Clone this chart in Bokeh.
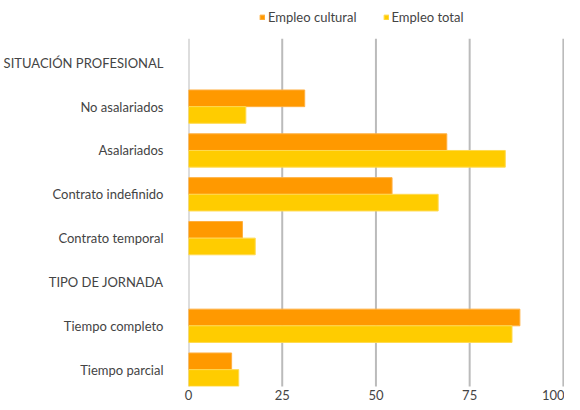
from bokeh.plotting import figure
from bokeh.models import Range1d, Legend, LegendItem, ColumnDataSource, FixedTicker
from bokeh.transform import dodge
from bokeh.embed import file_html
from bokeh.resources import INLINE

categories = ["SITUACIÓN PROFESIONAL", "No asalariados", "Asalariados", "Contrato indefinido",
              "Contrato temporal", "TIPO DE JORNADA", "Tiempo completo", "Tiempo parcial"]
data_categories = ["No asalariados", "Asalariados", "Contrato indefinido",
                   "Contrato temporal", "Tiempo completo", "Tiempo parcial"]
empleo_cultural = [31.0, 68.9, 54.3, 14.4, 88.4, 11.5]
empleo_total = [15.3, 84.5, 66.6, 17.8, 86.3, 13.4]
x_ticks = [0, 25, 50, 75, 100]

FONT = "Lato"
TXT = "#444444"
n = len(categories)
row = {c: n - 1 - i for i, c in enumerate(categories)}   # top category at the top

src = ColumnDataSource(dict(y=[row[c] for c in data_categories],
                            cult=empleo_cultural, tot=empleo_total))

p = figure(width=564, height=402, output_backend="svg", toolbar_location=None,
           y_range=Range1d(-0.385, n - 1 + 1.422), x_range=Range1d(0, 100.3),
           min_border_left=0, min_border_right=0, min_border_top=0, min_border_bottom=0)
p.outline_line_color = None
p.xgrid.grid_line_color = None
p.ygrid.grid_line_color = None

# vertical grid lines spanning the category rows only
p.segment(x0=x_ticks, x1=x_ticks, y0=[-0.5] * len(x_ticks), y1=[n - 0.45] * len(x_ticks),
          line_color="#BBBBBB", line_width=2)

r1 = p.hbar(y=dodge("y", 0.19), right="cult", left=0, height=0.38,
            source=src, fill_color="#FF9900", line_color="#FFB040", line_width=1)
r2 = p.hbar(y=dodge("y", -0.19), right="tot", left=0, height=0.38,
            source=src, fill_color="#FFCC00", line_color="#FFDA50", line_width=1)

p.xaxis.ticker = FixedTicker(ticks=x_ticks)
p.yaxis.ticker = FixedTicker(ticks=list(range(n)))
p.yaxis.major_label_overrides = {row[c]: c for c in categories}

for ax in (p.xaxis[0], p.yaxis[0]):
    ax.axis_line_color = None
    ax.major_tick_line_color = None
    ax.minor_tick_line_color = None
    ax.major_tick_out = 0
    ax.major_tick_in = 0
    ax.major_label_text_font = FONT
    ax.major_label_text_font_size = "13px"
    ax.major_label_text_color = TXT
p.yaxis.major_label_standoff = 25
p.xaxis.major_label_standoff = 3

legend = Legend(items=[LegendItem(label="Empleo cultural", renderers=[r1]),
                       LegendItem(label="Empleo total", renderers=[r2])],
                orientation="horizontal", location=(71, 361),
                glyph_width=6, glyph_height=6, label_standoff=3, spacing=26, label_height=14,
                label_text_font=FONT, label_text_font_size="13px", label_text_color=TXT,
                border_line_color=None, background_fill_alpha=0, margin=0, padding=0)
p.add_layout(legend, "center")

open("out.html", "w").write(file_html(p, INLINE))
